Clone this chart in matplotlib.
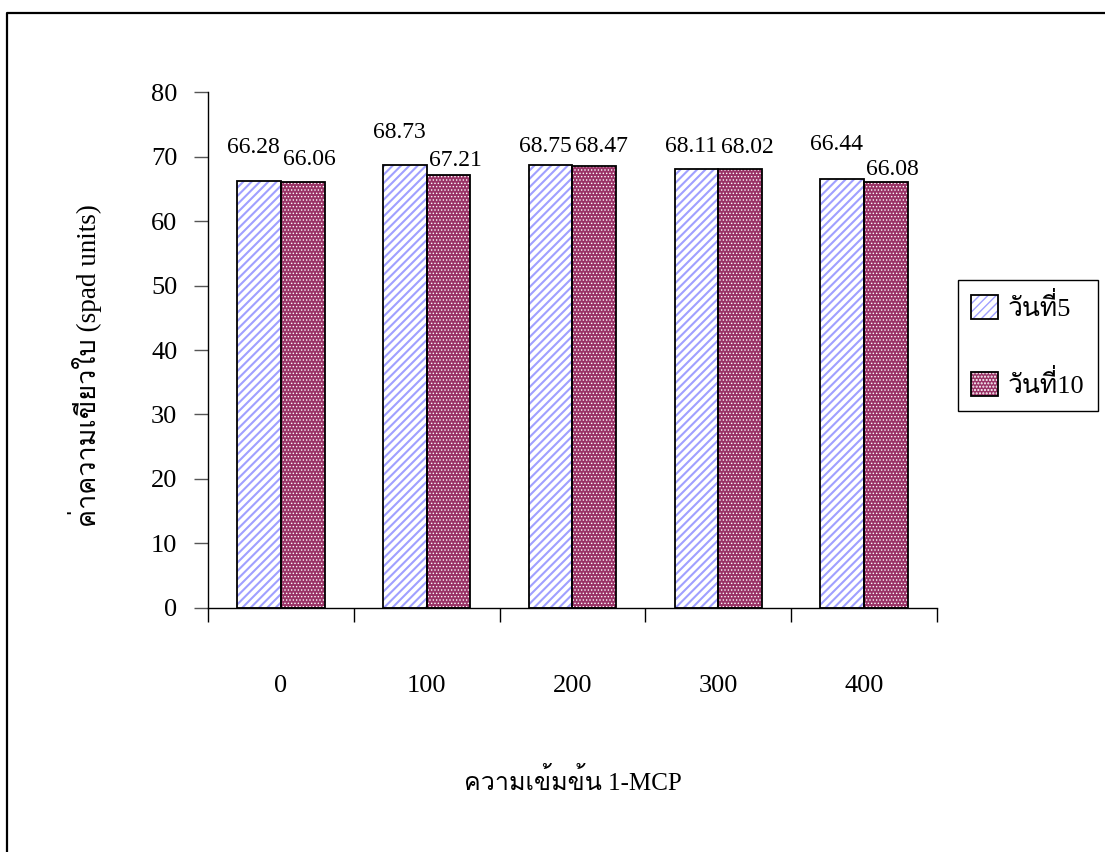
import matplotlib
matplotlib.use("Agg")
import matplotlib.pyplot as plt
from matplotlib import font_manager
from matplotlib.ft2font import FT2Font
from matplotlib.lines import Line2D
import numpy as np

# data
concentrations = ["0", "100", "200", "300", "400"]
day5 = [66.28, 68.73, 68.75, 68.11, 66.44]
day10 = [66.06, 67.21, 68.47, 68.02, 66.08]
series_names = ["วันที่5", "วันที่10"]
xlabel = "ความเข้มข้น 1-MCP"
ylabel = "ค่าความเขียวใบ (spad units)"

# how far each value label sits above its bar (points)
lift5 = [24, 23, 13, 16, 25]
lift10 = [16, 10, 14, 16, 9]


def find_thai_font():
    for fe in font_manager.fontManager.ttflist:
        try:
            f = FT2Font(fe.fname)
            if f.get_char_index(ord("ว")) and f.get_char_index(ord("ม")):
                return fe.name
        except Exception:
            pass
    return None


families = ["Liberation Serif"]
thai = find_thai_font()
if thai:
    families.append(thai)
families.append("DejaVu Sans")
plt.rcParams["font.family"] = families

fig = plt.figure(figsize=(11.05, 8.52), dpi=100)
ax = fig.add_axes([0.1882, 0.2864, 0.6597, 0.6056])

x = np.arange(len(concentrations))
w = 0.3

with plt.rc_context({"hatch.linewidth": 1.5}):
    b5 = ax.bar(x - w / 2, day5, w, color="white", hatch="////",
                edgecolor="#a0a0ff", linewidth=0, zorder=2)
with plt.rc_context({"hatch.linewidth": 0.6}):
    b10 = ax.bar(x + w / 2, day10, w, color="#993366", hatch=".....",
                 edgecolor="white", linewidth=0, zorder=2)
for p in b5:
    if hasattr(p, "set_hatch_linewidth"):
        p.set_hatch_linewidth(1.5)
for p in b10:
    if hasattr(p, "set_hatch_linewidth"):
        p.set_hatch_linewidth(0.6)

o5 = ax.bar(x - w / 2, day5, w, fill=False, edgecolor="black",
            linewidth=1.3, zorder=3)
o10 = ax.bar(x + w / 2, day10, w, fill=False, edgecolor="black",
             linewidth=1.3, zorder=3)

for xi, v, d in zip(x - w / 2, day5, lift5):
    ax.annotate(f"{v:.2f}", (xi, v), xytext=(-4, d), textcoords="offset points",
                ha="center", va="center", fontsize=17)
for xi, v, d in zip(x + w / 2, day10, lift10):
    ax.annotate(f"{v:.2f}", (xi, v), xytext=(5, d), textcoords="offset points",
                ha="center", va="center", fontsize=17)

ax.set_xlim(-0.5, len(concentrations) - 0.5)
ax.set_ylim(0, 80)
ax.set_yticks(np.arange(0, 81, 10))
ax.tick_params(axis="y", labelsize=19, length=10, width=1, direction="out",
               color="#555555", pad=12)

ax.set_xticks(x)
ax.set_xticklabels(concentrations)
ax.set_xticks(np.arange(-0.5, len(concentrations)), minor=True)
ax.tick_params(axis="x", which="major", length=0, labelsize=19, pad=48)
ax.tick_params(axis="x", which="minor", length=10, width=1, direction="out",
               color="black")

for s in ["top", "right"]:
    ax.spines[s].set_visible(False)
ax.spines["left"].set_linewidth(1.0)
ax.spines["bottom"].set_linewidth(1.0)

ax.set_xlabel(xlabel, fontsize=18)
ax.xaxis.set_label_coords(0.5, -0.31)
ax.set_ylabel(ylabel, fontsize=19.5)
ax.yaxis.set_label_coords(-0.168, 0.47)
ax.yaxis.label.set_va("center")

leg = fig.legend([(b5[0], o5[0]), (b10[0], o10[0])], series_names,
                 loc="upper left", bbox_to_anchor=(958 / 1105, 1 - 280 / 852),
                 fontsize=19, frameon=True, fancybox=False, framealpha=1,
                 edgecolor="black", borderaxespad=0, borderpad=0.5,
                 handlelength=1.0, handleheight=1.0, handletextpad=0.4,
                 labelspacing=1.85)
leg.get_frame().set_linewidth(1.0)

# outer chart border (top and left edges visible)
bx = 7 / 1105
by = 1 - 13 / 852
fig.add_artist(Line2D([bx, bx, 1.0], [0.0, by, by], transform=fig.transFigure,
                      color="black", linewidth=1.6))

fig.savefig("out.png", dpi=100)
